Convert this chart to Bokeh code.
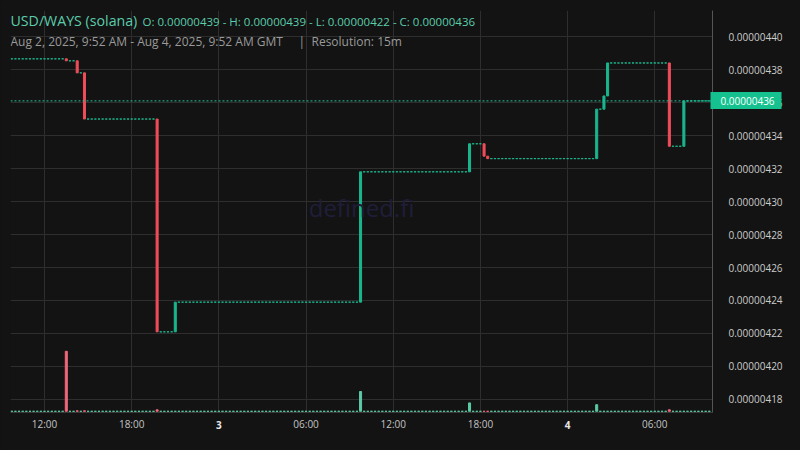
import numpy as np
from bokeh.plotting import figure
from bokeh.models import (ColumnDataSource, Range1d, FixedTicker, PrintfTickFormatter, Span,
                          Label, LinearAxis)
from bokeh.embed import file_html
from bokeh.resources import INLINE

# bougies 15m qui bougent (heures depuis le 2 août 2025 00:00 GMT)
move_time = [13.5, 14.25, 14.75, 19.75, 21.0, 33.75, 41.25, 42.25, 42.5, 50.0, 50.5, 50.75, 55.0, 56.0]
move_open = [0.0000043865, 0.0000043853, 0.0000043780, 0.0000043500, 0.0000042210, 0.0000042390,
             0.0000043180, 0.0000043350, 0.0000043275, 0.0000043260, 0.0000043560, 0.0000043640,
             0.0000043840, 0.0000043335]
move_close = [0.0000043853, 0.0000043780, 0.0000043500, 0.0000042210, 0.0000042390, 0.0000043180,
              0.0000043350, 0.0000043275, 0.0000043260, 0.0000043560, 0.0000043640, 0.0000043840,
              0.0000043335, 0.0000043610]
move_volume = [100, 0.8, 0.8, 2.5, 0, 33, 14, 0, 0, 11, 0, 0, 2.5, 0]
first_price = 0.0000043865
slot_first, slot_last = 9.75, 57.75   # 2 août 09:45 -> 4 août 09:45

price_ticks = [0.00000418, 0.00000420, 0.00000422, 0.00000424, 0.00000426, 0.00000428,
               0.00000430, 0.00000432, 0.00000434, 0.00000436, 0.00000438, 0.00000440]
time_ticks = [12, 18, 24, 30, 36, 42, 48, 54]
time_labels = ["12:00", "18:00", "3", "06:00", "12:00", "18:00", "4", "06:00"]
day_ticks = [24, 48]

UP = "#19b68e"
DOWN = "#f04d5a"
UP_VOL = "#5cc9a7"
DOWN_VOL = "#f0687a"
TAG = "#15c28f"
BG = "#131313"
FONT = "Open Sans"

# toutes les bougies (les plates gardent le dernier prix)
times, opens, closes, vols = [], [], [], []
last = first_price
for t in np.arange(slot_first, slot_last + 0.001, 0.25):
    t = round(float(t), 2)
    if t in move_time:
        k = move_time.index(t)
        o, c, v = move_open[k], move_close[k], move_volume[k]
    else:
        o, c, v = last, last, 0
    times.append(t)
    opens.append(o)
    closes.append(c)
    vols.append(v)
    last = c

colors = [DOWN if c < o else UP for o, c in zip(opens, closes)]
vcolors = [DOWN_VOL if c < o else UP_VOL for o, c in zip(opens, closes)]
half = 0.07
src = ColumnDataSource(dict(
    left=[t - half for t in times], right=[t + half for t in times],
    top=[max(o, c) for o, c in zip(opens, closes)],
    bottom=[min(o, c) for o, c in zip(opens, closes)],
    vol=vols, zero=[0] * len(times), color=colors, vcolor=vcolors))

x_lo, x_hi = 9.66, 57.97
y_lo, y_hi = 0.0000041721, 0.0000044158
p = figure(width=800, height=450, x_range=Range1d(x_lo, x_hi),
           y_range=Range1d(y_lo, y_hi), y_axis_location="right",
           output_backend="svg", toolbar_location=None,
           min_border_left=10, min_border_top=10, min_border_right=88, min_border_bottom=38)
p.background_fill_color = BG
p.border_fill_color = BG
p.outline_line_color = None

# volume en bas
p.extra_y_ranges = {"vol": Range1d(-2, 668)}
p.quad(left="left", right="right", top="vol", bottom="zero", source=src, y_range_name="vol",
       fill_color="vcolor", line_color="vcolor", line_width=1)

# bougies
p.quad(left="left", right="right", top="top", bottom="bottom", source=src,
       fill_color="color", line_color="color", line_width=1)

# prix actuel
p.add_layout(Span(location=closes[-1], dimension="width", line_color="#1ec59b",
                  line_dash="2 2", line_width=1))

# axes
yax = p.yaxis[0]
yax.ticker = FixedTicker(ticks=price_ticks)
yax.formatter = PrintfTickFormatter(format="%.8f")
yax.axis_line_color = "#555555"
yax.major_tick_line_color = None
yax.minor_tick_line_color = None
yax.major_label_standoff = 10
yax.major_label_text_font = FONT
yax.major_label_text_font_size = "10px"
yax.major_label_text_color = "#cccccc"

xax = p.xaxis[0]
xax.ticker = FixedTicker(ticks=time_ticks)
xax.major_label_overrides = {t: ("" if t in day_ticks else lab)
                             for t, lab in zip(time_ticks, time_labels)}
xax.axis_line_color = "#3a3a3a"
xax.major_tick_line_color = None
xax.minor_tick_line_color = None
xax.major_label_standoff = -2
xax.major_label_text_font = FONT
xax.major_label_text_font_size = "10px"
xax.major_label_text_color = "#c4c4c4"

p.grid.grid_line_color = "#2e2e2e"

# jours en gras : second axe, ramené sur la ligne du premier
day_axis = LinearAxis(ticker=FixedTicker(ticks=day_ticks),
                      major_label_overrides={t: lab for t, lab in zip(time_ticks, time_labels)
                                             if t in day_ticks})
day_axis.axis_line_color = None
day_axis.major_tick_line_color = None
day_axis.minor_tick_line_color = None
day_axis.major_label_standoff = -19
day_axis.major_label_text_font = FONT
day_axis.major_label_text_font_size = "10px"
day_axis.major_label_text_font_style = "bold"
day_axis.major_label_text_color = "#e6e6e6"
p.add_layout(day_axis, "below")

# étiquette du prix actuel : un trait épais sert de fond
tag_axis = LinearAxis(ticker=FixedTicker(ticks=[closes[-1]]),
                      formatter=PrintfTickFormatter(format="%.8f"))
tag_axis.axis_line_color = None
tag_axis.major_tick_in = 75
tag_axis.major_tick_out = -4
tag_axis.minor_tick_out = 0
tag_axis.major_tick_line_width = 17
tag_axis.major_tick_line_color = TAG
tag_axis.minor_tick_line_color = None
tag_axis.major_label_standoff = -65
tag_axis.major_label_text_font = FONT
tag_axis.major_label_text_font_size = "10px"
tag_axis.major_label_text_color = "#ffffff"
p.add_layout(tag_axis, "right")

# filigrane
p.add_layout(Label(x=351, y=205, x_units="screen", y_units="screen", text="defined.fi",
                   text_align="center", text_baseline="middle", text_font=FONT,
                   text_font_size="24px", text_color="#1f1e3a"))

# titres
fmt = "%.8f"
ohlc = "O: %s - H: %s - L: %s - C: %s" % (fmt % opens[0], fmt % max(closes + opens),
                                          fmt % min(closes + opens), fmt % closes[-1])
p.add_layout(Label(x=0, y=392, x_units="screen", y_units="screen", text="USD/WAYS (solana)",
                   text_baseline="middle", text_font=FONT, text_font_size="14.2px",
                   text_color="#5bcdab"))
p.add_layout(Label(x=132, y=391, x_units="screen", y_units="screen", text=ohlc,
                   text_baseline="middle", text_font=FONT, text_font_size="11.5px",
                   text_color="#5bcdab"))
p.add_layout(Label(x=0, y=371, x_units="screen", y_units="screen",
                   text="Aug 2, 2025, 9:52 AM - Aug 4, 2025, 9:52 AM GMT",
                   text_baseline="middle", text_font=FONT, text_font_size="12px",
                   text_color="#9a9a9a"))
p.add_layout(Label(x=288, y=371, x_units="screen", y_units="screen", text="|",
                   text_baseline="middle", text_font=FONT, text_font_size="12px",
                   text_color="#9a9a9a"))
p.add_layout(Label(x=301, y=371, x_units="screen", y_units="screen", text="Resolution: 15m",
                   text_baseline="middle", text_font=FONT, text_font_size="12px",
                   text_color="#9a9a9a"))

html = file_html(p, INLINE)
html = html.replace("<head>", "<head><style>body{background:%s;}</style>" % BG, 1)
open("out.html", "w").write(html)
